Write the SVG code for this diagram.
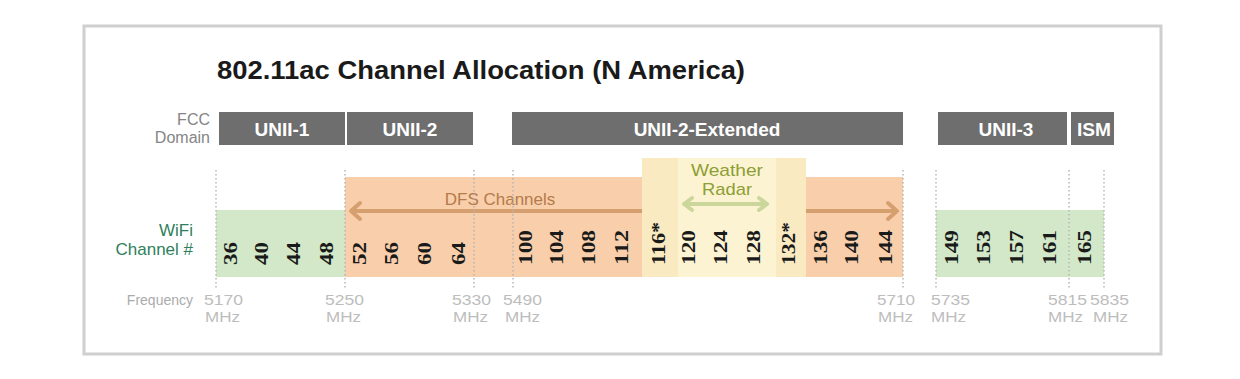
<svg xmlns="http://www.w3.org/2000/svg" width="1240" height="379" viewBox="0 0 1240 379">
<style>
.frame{fill:#fff;stroke:#cfcfcf;stroke-width:3}
.title{font-family:"Liberation Sans",Arial,sans-serif;font-weight:bold;font-size:25px;fill:#1a1a1a}
.bar{fill:#6e6e6e}
.bartxt{font-family:"Liberation Sans",Arial,sans-serif;font-weight:bold;font-size:19px;fill:#fff;text-anchor:middle}
.lbl{font-family:"Liberation Sans",Arial,sans-serif;font-size:16px;fill:#858585;text-anchor:end}
.wifi{font-family:"Liberation Sans",Arial,sans-serif;font-size:17px;fill:#2f7f5c;text-anchor:end}
.freq{font-family:"Liberation Sans",Arial,sans-serif;font-size:15px;fill:#bdbdbd}
.freqlbl{font-family:"Liberation Sans",Arial,sans-serif;font-size:14px;fill:#ababab;text-anchor:end}
.ch{font-family:"Liberation Serif","Times New Roman",serif;font-weight:bold;font-size:18px;fill:#1a1a1a}
.dot{stroke:#b5b5b5;stroke-width:1.5;stroke-dasharray:1.5 2.5;fill:none}
.dfs{stroke:#d69f6f;stroke-width:4;fill:none}
.dfshead{stroke:#d69f6f;stroke-width:4;fill:none;stroke-linecap:round;stroke-linejoin:round}
.wr{stroke:#cbd69a;stroke-width:4;fill:none;stroke-linecap:round;stroke-linejoin:round}
.dfstxt{font-family:"Liberation Sans",Arial,sans-serif;font-size:17px;fill:#b57a4c;text-anchor:middle}
.wrtxt{font-family:"Liberation Sans",Arial,sans-serif;font-size:17px;fill:#8c9e34;text-anchor:middle}
</style>
<rect class="frame" x="84" y="26" width="1077" height="328"/>
<text class="title" x="217" y="79" textLength="528" lengthAdjust="spacingAndGlyphs">802.11ac Channel Allocation (N America)</text>

<g id="fcc-label">
<text class="lbl" x="210" y="125">FCC</text>
<text class="lbl" x="210" y="143">Domain</text>
</g>
<g id="unii1"><rect class="bar" x="219" y="112" width="126" height="33"/><text class="bartxt" x="282" y="136">UNII-1</text></g>
<g id="unii2"><rect class="bar" x="347" y="112" width="126" height="33"/><text class="bartxt" x="410" y="136">UNII-2</text></g>
<g id="unii2e"><rect class="bar" x="512" y="112" width="391" height="33"/><text class="bartxt" x="707" y="136">UNII-2-Extended</text></g>
<g id="unii3"><rect class="bar" x="938" y="112" width="129" height="33"/><text class="bartxt" x="1006" y="136">UNII-3</text></g>
<g id="ism"><rect class="bar" x="1071" y="112" width="43" height="33"/><text class="bartxt" x="1094" y="136" textLength="34" lengthAdjust="spacingAndGlyphs">ISM</text></g>

<g id="bands">
<rect x="216" y="210" width="129" height="67" fill="#d2e8c8"/>
<rect x="345" y="177" width="558" height="100" fill="#f8cfaa"/>
<rect x="936" y="210" width="168" height="67" fill="#d2e8c8"/>
</g>

<g id="connectors">
<line class="dfs" x1="352" y1="211" x2="896" y2="211"/>
<polyline class="dfshead" points="360,203 351,211 360,219"/>
<polyline class="dfshead" points="888,203 897,211 888,219"/>
</g>

<g id="weather">
<rect x="642" y="158" width="164" height="119" fill="#faeac2"/>
<rect x="678" y="158" width="98" height="119" fill="#fcf3d2"/>
<text class="wrtxt" x="727" y="176" textLength="72" lengthAdjust="spacingAndGlyphs">Weather</text>
<text class="wrtxt" x="727" y="195" textLength="50" lengthAdjust="spacingAndGlyphs">Radar</text>
<line class="wr" x1="685" y1="204" x2="766" y2="204"/>
<polyline class="wr" points="692,198 684,204 692,210"/>
<polyline class="wr" points="759,198 767,204 759,210"/>
</g>

<text class="dfstxt" x="500" y="205">DFS Channels</text>

<g id="gridlines">
<line class="dot" x1="216" y1="170" x2="216" y2="290"/>
<line class="dot" x1="345" y1="170" x2="345" y2="290"/>
<line class="dot" x1="474" y1="170" x2="474" y2="290"/>
<line class="dot" x1="513" y1="170" x2="513" y2="290"/>
<line class="dot" x1="903" y1="170" x2="903" y2="290"/>
<line class="dot" x1="936" y1="170" x2="936" y2="290"/>
<line class="dot" x1="1069" y1="170" x2="1069" y2="290"/>
<line class="dot" x1="1104" y1="170" x2="1104" y2="290"/>
</g>

<g id="wifi-label">
<text class="wifi" x="193" y="236">WiFi</text>
<text class="wifi" x="193" y="255">Channel #</text>
</g>

<g id="channels">
<text class="ch" transform="translate(237,265) rotate(-90)" textLength="23" lengthAdjust="spacingAndGlyphs">36</text>
<text class="ch" transform="translate(268,265) rotate(-90)" textLength="23" lengthAdjust="spacingAndGlyphs">40</text>
<text class="ch" transform="translate(300,265) rotate(-90)" textLength="23" lengthAdjust="spacingAndGlyphs">44</text>
<text class="ch" transform="translate(333,265) rotate(-90)" textLength="23" lengthAdjust="spacingAndGlyphs">48</text>
<text class="ch" transform="translate(366,265) rotate(-90)" textLength="23" lengthAdjust="spacingAndGlyphs">52</text>
<text class="ch" transform="translate(398,265) rotate(-90)" textLength="23" lengthAdjust="spacingAndGlyphs">56</text>
<text class="ch" transform="translate(431,265) rotate(-90)" textLength="23" lengthAdjust="spacingAndGlyphs">60</text>
<text class="ch" transform="translate(465,265) rotate(-90)" textLength="23" lengthAdjust="spacingAndGlyphs">64</text>
<text class="ch" transform="translate(532,265) rotate(-90)" textLength="35" lengthAdjust="spacingAndGlyphs">100</text>
<text class="ch" transform="translate(563,265) rotate(-90)" textLength="35" lengthAdjust="spacingAndGlyphs">104</text>
<text class="ch" transform="translate(595,265) rotate(-90)" textLength="35" lengthAdjust="spacingAndGlyphs">108</text>
<text class="ch" transform="translate(628,265) rotate(-90)" textLength="35" lengthAdjust="spacingAndGlyphs">112</text>
<text class="ch" transform="translate(665,265) rotate(-90)" textLength="43" lengthAdjust="spacingAndGlyphs">116*</text>
<text class="ch" transform="translate(695,265) rotate(-90)" textLength="35" lengthAdjust="spacingAndGlyphs">120</text>
<text class="ch" transform="translate(727,265) rotate(-90)" textLength="35" lengthAdjust="spacingAndGlyphs">124</text>
<text class="ch" transform="translate(760,265) rotate(-90)" textLength="35" lengthAdjust="spacingAndGlyphs">128</text>
<text class="ch" transform="translate(795,265) rotate(-90)" textLength="43" lengthAdjust="spacingAndGlyphs">132*</text>
<text class="ch" transform="translate(827,265) rotate(-90)" textLength="35" lengthAdjust="spacingAndGlyphs">136</text>
<text class="ch" transform="translate(858,265) rotate(-90)" textLength="35" lengthAdjust="spacingAndGlyphs">140</text>
<text class="ch" transform="translate(892,265) rotate(-90)" textLength="35" lengthAdjust="spacingAndGlyphs">144</text>
<text class="ch" transform="translate(958,265) rotate(-90)" textLength="35" lengthAdjust="spacingAndGlyphs">149</text>
<text class="ch" transform="translate(990,265) rotate(-90)" textLength="35" lengthAdjust="spacingAndGlyphs">153</text>
<text class="ch" transform="translate(1023,265) rotate(-90)" textLength="35" lengthAdjust="spacingAndGlyphs">157</text>
<text class="ch" transform="translate(1056,265) rotate(-90)" textLength="35" lengthAdjust="spacingAndGlyphs">161</text>
<text class="ch" transform="translate(1091,265) rotate(-90)" textLength="35" lengthAdjust="spacingAndGlyphs">165</text>
</g>

<g id="frequencies">
<text class="freqlbl" x="193" y="305">Frequency</text>
<text class="freq" x="204" y="305" textLength="39" lengthAdjust="spacingAndGlyphs">5170</text><text class="freq" x="205" y="322" textLength="35" lengthAdjust="spacingAndGlyphs">MHz</text>
<text class="freq" x="325" y="305" textLength="39" lengthAdjust="spacingAndGlyphs">5250</text><text class="freq" x="326" y="322" textLength="35" lengthAdjust="spacingAndGlyphs">MHz</text>
<text class="freq" x="452" y="305" textLength="39" lengthAdjust="spacingAndGlyphs">5330</text><text class="freq" x="453" y="322" textLength="35" lengthAdjust="spacingAndGlyphs">MHz</text>
<text class="freq" x="503" y="305" textLength="39" lengthAdjust="spacingAndGlyphs">5490</text><text class="freq" x="505" y="322" textLength="35" lengthAdjust="spacingAndGlyphs">MHz</text>
<text class="freq" x="877" y="305" textLength="38" lengthAdjust="spacingAndGlyphs">5710</text><text class="freq" x="878" y="322" textLength="35" lengthAdjust="spacingAndGlyphs">MHz</text>
<text class="freq" x="931" y="305" textLength="39" lengthAdjust="spacingAndGlyphs">5735</text><text class="freq" x="931" y="322" textLength="35" lengthAdjust="spacingAndGlyphs">MHz</text>
<text class="freq" x="1048" y="305" textLength="39" lengthAdjust="spacingAndGlyphs">5815</text><text class="freq" x="1048" y="322" textLength="35" lengthAdjust="spacingAndGlyphs">MHz</text>
<text class="freq" x="1090" y="305" textLength="39" lengthAdjust="spacingAndGlyphs">5835</text><text class="freq" x="1093" y="322" textLength="35" lengthAdjust="spacingAndGlyphs">MHz</text>
</g>
</svg>
